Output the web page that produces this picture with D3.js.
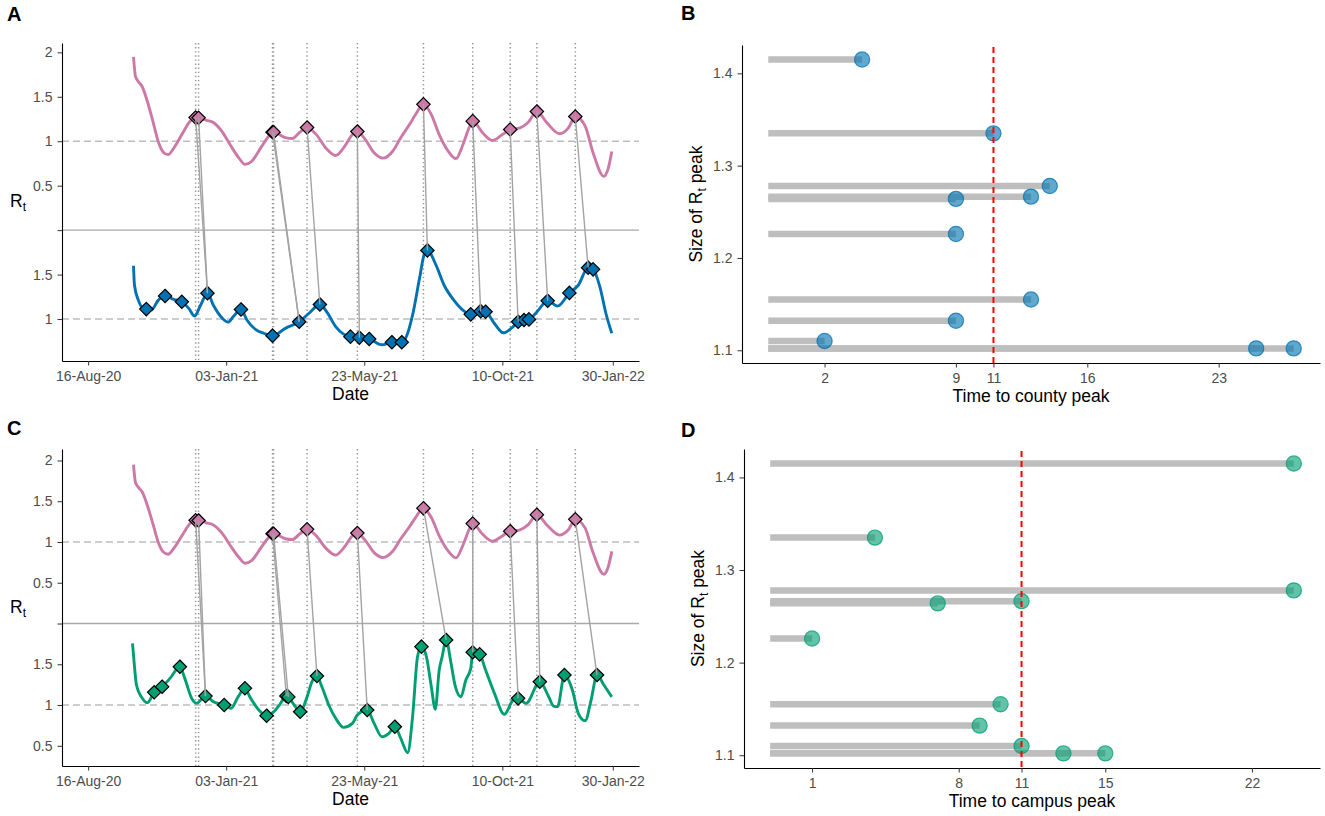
<!DOCTYPE html>
<html><head><meta charset="utf-8">
<script src="https://cdn.jsdelivr.net/npm/d3@7"></script>
<style>
body{margin:0;background:#fff;}
svg text{font-family:"Liberation Sans",Arial,Helvetica,sans-serif;}
</style></head><body>
<svg id="chart" width="1325" height="816"></svg>
<script>
// ---------------- DATA ----------------
// County Rt curve (pink)
const countyCurveDates = ["2020-10-01","2020-10-03","2020-10-06","2020-10-10","2020-10-15","2020-10-21","2020-10-26","2020-10-31","2020-11-05","2020-11-11","2020-11-19","2020-11-27","2020-12-03","2020-12-06","2020-12-14","2020-12-21","2020-12-30","2021-01-07","2021-01-16","2021-01-22","2021-01-29","2021-02-07","2021-02-15","2021-02-19","2021-02-20","2021-03-04","2021-03-11","2021-03-19","2021-03-26","2021-04-04","2021-04-14","2021-04-24","2021-05-02","2021-05-11","2021-05-16","2021-05-24","2021-06-02","2021-06-11","2021-06-21","2021-06-29","2021-07-08","2021-07-14","2021-07-22","2021-07-30","2021-08-07","2021-08-16","2021-08-24","2021-08-31","2021-09-07","2021-09-10","2021-09-20","2021-09-30","2021-10-10","2021-10-18","2021-10-28","2021-11-05","2021-11-14","2021-11-24","2021-12-07","2021-12-16","2021-12-23","2022-01-02","2022-01-10","2022-01-21","2022-01-25","2022-01-29"];
const countyCurveValues = [1.95,1.73,1.67,1.61,1.45,1.21,1.00,0.88,0.85,0.925,1.075,1.22,1.266,1.264,1.235,1.21,1.105,0.96,0.81,0.74,0.775,0.925,1.055,1.102,1.102,1.04,1.03,1.105,1.155,1.08,0.925,0.84,0.925,1.075,1.11,1.02,0.87,0.81,0.89,1.04,1.19,1.30,1.415,1.30,1.075,0.89,0.805,0.96,1.17,1.226,1.095,1.01,1.075,1.132,1.15,1.21,1.335,1.21,1.085,1.15,1.278,1.17,0.87,0.605,0.68,0.885];

// County peaks (pink diamonds) and lags (days) to the matching campus peak
const countyPeakDates = ["2020-12-03","2020-12-06","2021-02-19","2021-02-20","2021-03-26","2021-05-16","2021-07-22","2021-09-10","2021-10-18","2021-11-14","2021-12-23"];
const countyPeakSizes = [1.2664,1.264,1.102,1.102,1.155,1.110,1.415,1.226,1.132,1.335,1.278];
const lagToCountyPeak = [13,9,27,25,13,2,4,9,9,11,14];
const lagToCampusPeak = [11,7,13,15,10,11,24,1,9,4,24];

// Campus Rt curve, panel A (blue)
const campusACurveDates = ["2020-10-01","2020-10-02","2020-10-06","2020-10-09","2020-10-14","2020-10-19","2020-10-26","2020-11-02","2020-11-10","2020-11-19","2020-11-26","2020-12-02","2020-12-08","2020-12-15","2020-12-21","2020-12-30","2021-01-05","2021-01-10","2021-01-18","2021-01-24","2021-02-02","2021-02-10","2021-02-19","2021-03-04","2021-03-18","2021-03-28","2021-04-08","2021-04-15","2021-04-24","2021-05-02","2021-05-09","2021-05-18","2021-05-28","2021-06-10","2021-06-20","2021-06-30","2021-07-04","2021-07-11","2021-07-18","2021-07-23","2021-07-26","2021-08-04","2021-08-12","2021-08-22","2021-08-31","2021-09-08","2021-09-18","2021-09-23","2021-10-02","2021-10-11","2021-10-21","2021-10-26","2021-11-01","2021-11-06","2021-11-14","2021-11-25","2021-12-05","2021-12-17","2021-12-26","2022-01-05","2022-01-10","2022-01-17","2022-01-23","2022-01-29"];
const campusACurveValues = [1.60,1.38,1.21,1.14,1.112,1.10,1.21,1.26,1.225,1.194,1.12,1.035,1.155,1.291,1.155,1.01,0.965,1.025,1.108,0.99,0.88,0.84,0.813,0.895,0.97,1.065,1.164,1.08,0.915,0.83,0.802,0.791,0.776,0.71,0.739,0.739,0.785,1.045,1.455,1.735,1.772,1.60,1.38,1.21,1.10,1.053,1.089,1.082,0.95,0.845,0.915,0.97,0.989,0.996,1.08,1.205,1.145,1.294,1.38,1.578,1.559,1.36,1.065,0.84];
const campusAPeakDates = ["2020-10-14","2020-11-02","2020-11-19","2020-12-15","2021-01-18","2021-02-19","2021-03-18","2021-04-08","2021-05-09","2021-05-18","2021-05-28","2021-06-20","2021-06-30","2021-07-26","2021-09-08","2021-09-18","2021-09-23","2021-10-26","2021-11-01","2021-11-06","2021-11-25","2021-12-17","2022-01-05","2022-01-10"];
const campusAPeakValues = [1.112,1.26,1.194,1.291,1.108,0.813,0.97,1.164,0.802,0.791,0.776,0.739,0.739,1.772,1.053,1.089,1.082,0.97,0.989,0.996,1.205,1.294,1.578,1.559];

// Campus Rt curve, panel C (green)
const campusCCurveDates = ["2020-09-30","2020-10-02","2020-10-04","2020-10-09","2020-10-15","2020-10-22","2020-10-30","2020-11-07","2020-11-17","2020-11-22","2020-11-29","2020-12-04","2020-12-13","2020-12-21","2021-01-01","2021-01-08","2021-01-15","2021-01-22","2021-01-27","2021-02-05","2021-02-13","2021-02-22","2021-02-26","2021-03-05","2021-03-07","2021-03-13","2021-03-19","2021-03-26","2021-03-31","2021-04-05","2021-04-10","2021-04-17","2021-04-24","2021-05-02","2021-05-11","2021-05-16","2021-05-26","2021-06-02","2021-06-10","2021-06-17","2021-06-23","2021-06-29","2021-07-06","2021-07-11","2021-07-16","2021-07-20","2021-07-25","2021-07-30","2021-08-03","2021-08-07","2021-08-10","2021-08-14","2021-08-19","2021-08-23","2021-08-29","2021-09-03","2021-09-08","2021-09-10","2021-09-17","2021-09-23","2021-10-02","2021-10-12","2021-10-21","2021-10-26","2021-11-03","2021-11-17","2021-11-26","2021-12-01","2021-12-05","2021-12-12","2021-12-20","2021-12-26","2022-01-02","2022-01-08","2022-01-14","2022-01-21","2022-01-29"];
const campusCCurveValues = [1.757,1.47,1.245,1.10,1.028,1.156,1.225,1.327,1.47,1.327,1.082,1.021,1.11,1.041,1.0,0.96,1.10,1.205,1.10,0.94,0.869,0.94,1.0,1.11,1.10,1.0,0.918,1.10,1.286,1.356,1.225,1.0,0.837,0.726,0.775,0.877,0.939,0.775,0.611,0.653,0.734,0.591,0.415,0.857,1.593,1.716,1.593,1.225,0.947,1.429,1.593,1.798,1.512,1.245,1.102,1.307,1.45,1.647,1.622,1.429,1.143,0.886,1.061,1.082,1.02,1.286,1.102,0.988,0.98,1.368,1.184,0.898,0.807,1.061,1.368,1.245,1.10];
const campusCPeakDates = ["2020-10-22","2020-10-30","2020-11-17","2020-12-13","2021-01-01","2021-01-22","2021-02-13","2021-03-05","2021-03-07","2021-03-19","2021-04-05","2021-05-26","2021-06-23","2021-07-20","2021-08-14","2021-09-10","2021-09-17","2021-10-26","2021-11-17","2021-12-12","2022-01-14"];
const campusCPeakValues = [1.156,1.225,1.47,1.11,1.0,1.205,0.869,1.11,1.10,0.918,1.356,0.939,0.734,1.716,1.798,1.647,1.622,1.082,1.286,1.368,1.368];

// Axis ticks
const dateTickDates = ["2020-08-16","2021-01-03","2021-05-23","2021-10-10","2022-01-30"];
const dateTickLabels = ["16-Aug-20","03-Jan-21","23-May-21","10-Oct-21","30-Jan-22"];
const rtTicksTop = [0.5,1,1.5,2];
const rtTicksBottomA = [1,1.5];
const rtTicksBottomC = [0.5,1,1.5];
const countyLagTicks = [2,9,11,16,23];
const campusLagTicks = [1,8,11,15,22];
const sizeTicks = [1.1,1.2,1.3,1.4];

// ---------------- DRAWING ----------------
const parse = d3.utcParse("%Y-%m-%d");
const svg = d3.select("#chart");
svg.append("rect").attr("width",1325).attr("height",816).attr("fill","#fff");

const PINK = "#CC79A7", BLUE = "#0072B2", GREEN = "#009E73";
const SHIFT = 2; // county series stacked above campus series
const TICK_TXT = "#4d4d4d";
const TICK_FS = 14, TITLE_FS = 17.5;

function styleAxis(g){
  g.select(".domain").attr("stroke","#000").attr("stroke-width",1.1);
  g.selectAll(".tick line").attr("stroke","#333").attr("stroke-width",1);
  g.selectAll(".tick text").attr("fill",TICK_TXT).attr("font-size",TICK_FS)
    .attr("font-family","'Liberation Sans',Arial,sans-serif");
}

function panelLabel(txt,x,y){
  svg.append("text").attr("x",x).attr("y",y).attr("font-size",20).attr("font-weight","bold").text(txt);
}

function timePanel(cfg){
  const g = svg.append("g");
  const x = d3.scaleUtc()
    .domain([new Date(Date.UTC(2020,6,20,12)), new Date(Date.UTC(2022,1,25,14))])
    .range([cfg.left,cfg.right]);
  const y = d3.scaleLinear().domain(cfg.yDomain).range([cfg.bottom,cfg.top]);

  // vertical dotted lines at county peaks
  g.selectAll("line.vl").data(countyPeakDates).join("line")
    .attr("x1",d=>x(parse(d))).attr("x2",d=>x(parse(d)))
    .attr("y1",cfg.top).attr("y2",cfg.bottom)
    .attr("stroke","#9a9a9a").attr("stroke-width",1.5).attr("stroke-dasharray","1.4,2.7");
  // reference lines
  [1, 1+SHIFT].forEach(v=>{
    g.append("line").attr("x1",cfg.left).attr("x2",cfg.right).attr("y1",y(v)).attr("y2",y(v))
      .attr("stroke","#bdbdbd").attr("stroke-width",1.5).attr("stroke-dasharray","7,4");
  });
  g.append("line").attr("x1",cfg.left).attr("x2",cfg.right).attr("y1",y(SHIFT)).attr("y2",y(SHIFT))
    .attr("stroke","#a8a8a8").attr("stroke-width",1.4);

  const line = d3.line().curve(d3.curveMonotoneX).x(d=>x(d[0])).y(d=>y(d[1]));
  const county = countyCurveDates.map((d,i)=>[parse(d), countyCurveValues[i]+SHIFT]);
  const campus = cfg.curveDates.map((d,i)=>[parse(d), cfg.curveValues[i]]);
  g.append("path").attr("d",line(county)).attr("fill","none").attr("stroke",PINK).attr("stroke-width",2.9);
  g.append("path").attr("d",line(campus)).attr("fill","none").attr("stroke",cfg.color).attr("stroke-width",2.9);

  const diamond = r => `M0,${-r}L${r},0L0,${r}L${-r},0Z`;
  g.selectAll("path.cp").data(countyPeakDates).join("path")
    .attr("d",diamond(6.7)).attr("transform",(d,i)=>`translate(${x(parse(d))},${y(countyPeakSizes[i]+SHIFT)})`)
    .attr("fill",PINK).attr("stroke","#000").attr("stroke-width",1.2);
  g.selectAll("path.mp").data(cfg.peakDates).join("path")
    .attr("d",diamond(6.7)).attr("transform",(d,i)=>`translate(${x(parse(d))},${y(cfg.peakValues[i])})`)
    .attr("fill",cfg.color).attr("stroke","#000").attr("stroke-width",1.2);

  // connectors county peak -> campus peak (nearest campus peak to peak date + lag)
  const peaks = cfg.peakDates.map((d,i)=>({t:parse(d), v:cfg.peakValues[i]}));
  countyPeakDates.forEach((d,i)=>{
    const t0 = parse(d);
    const target = d3.utcDay.offset(t0, cfg.lags[i]);
    const best = d3.least(peaks, p=>Math.abs(p.t - target));
    g.append("line").attr("x1",x(t0)).attr("y1",y(countyPeakSizes[i]+SHIFT))
      .attr("x2",x(best.t)).attr("y2",y(best.v))
      .attr("stroke","#a3a3a3").attr("stroke-width",1.4);
  });

  // axes
  const yTicks = cfg.bottomTicks.concat([SHIFT], rtTicksTop.map(v=>v+SHIFT));
  const ya = g.append("g").attr("transform",`translate(${cfg.left},0)`)
    .call(d3.axisLeft(y).tickValues(yTicks).tickSize(4.5).tickPadding(5).tickSizeOuter(0)
      .tickFormat(v=> v===SHIFT ? "" : (v>SHIFT ? String(+(v-SHIFT).toFixed(2)) : String(v))));
  styleAxis(ya);
  const xa = g.append("g").attr("transform",`translate(0,${cfg.bottom})`)
    .call(d3.axisBottom(x).tickValues(dateTickDates.map(parse)).tickSize(4.5).tickPadding(6).tickSizeOuter(0)
      .tickFormat((d,i)=>dateTickLabels[i]));
  styleAxis(xa);
  g.append("text").attr("x",(cfg.left+cfg.right)/2).attr("y",cfg.bottom+39).attr("text-anchor","middle")
    .attr("font-size",TITLE_FS).text("Date");
  const rt = g.append("text").attr("x",10).attr("y",(cfg.top+cfg.bottom)/2+5).attr("font-size",TITLE_FS);
  rt.append("tspan").text("R");
  rt.append("tspan").attr("font-size",12).attr("dy",4).text("t");
}

function lollipopPanel(cfg){
  const g = svg.append("g");
  const x = d3.scaleLinear().domain(cfg.xDomain).range([cfg.left,cfg.right]);
  const y = d3.scaleLinear().domain([1.0862,1.4307]).range([cfg.bottom,cfg.top]);
  g.selectAll("line.seg").data(countyPeakSizes).join("line")
    .attr("x1",x(-1)).attr("x2",(d,i)=>x(cfg.lags[i]))
    .attr("y1",d=>y(d)).attr("y2",d=>y(d))
    .attr("stroke","#bebebe").attr("stroke-width",6.5);
  g.selectAll("circle").data(countyPeakSizes).join("circle")
    .attr("cx",(d,i)=>x(cfg.lags[i])).attr("cy",d=>y(d)).attr("r",7.6)
    .attr("fill",cfg.color).attr("fill-opacity",0.62)
    .attr("stroke",cfg.color).attr("stroke-opacity",0.75).attr("stroke-width",1.2);
  g.append("line").attr("x1",x(11)).attr("x2",x(11)).attr("y1",cfg.top+2).attr("y2",cfg.bottom)
    .attr("stroke","#ff0000").attr("stroke-width",2).attr("stroke-dasharray","6,4");
  const ya = g.append("g").attr("transform",`translate(${cfg.left},0)`)
    .call(d3.axisLeft(y).tickValues(sizeTicks).tickSize(4.5).tickPadding(5).tickSizeOuter(0).tickFormat(d3.format(".1f")));
  styleAxis(ya);
  const xa = g.append("g").attr("transform",`translate(0,${cfg.bottom})`)
    .call(d3.axisBottom(x).tickValues(cfg.xTicks).tickSize(4.5).tickPadding(6).tickSizeOuter(0).tickFormat(d3.format("d")));
  styleAxis(xa);
  g.append("text").attr("x",(cfg.left+cfg.right)/2).attr("y",cfg.bottom+39).attr("text-anchor","middle")
    .attr("font-size",TITLE_FS).text(cfg.xTitle);
  const t = g.append("text").attr("transform",`translate(${cfg.left-40},${(cfg.top+cfg.bottom)/2}) rotate(-90)`)
    .attr("text-anchor","middle").attr("font-size",TITLE_FS);
  t.append("tspan").text("Size of R");
  t.append("tspan").attr("font-size",12).attr("dy",4).text("t");
  t.append("tspan").attr("dy",-4).text(" peak");
}

timePanel({left:62,right:639,top:43,bottom:361,yDomain:[0.528,4.105],
  curveDates:campusACurveDates,curveValues:campusACurveValues,
  peakDates:campusAPeakDates,peakValues:campusAPeakValues,color:BLUE,
  bottomTicks:rtTicksBottomA,lags:lagToCountyPeak});
timePanel({left:62,right:639,top:449,bottom:766,yDomain:[0.252,4.141],
  curveDates:campusCCurveDates,curveValues:campusCCurveValues,
  peakDates:campusCPeakDates,peakValues:campusCPeakValues,color:GREEN,
  bottomTicks:rtTicksBottomC,lags:lagToCampusPeak});
lollipopPanel({left:742,right:1320,top:45,bottom:363,xDomain:[-2.4,28.4],
  xTicks:countyLagTicks,lags:lagToCountyPeak,color:BLUE,xTitle:"Time to county peak"});
lollipopPanel({left:744,right:1320,top:449,bottom:768,xDomain:[-2.25,25.25],
  xTicks:campusLagTicks,lags:lagToCampusPeak,color:GREEN,xTitle:"Time to campus peak"});

panelLabel("A",7,21);
panelLabel("B",681,20);
panelLabel("C",7,435);
panelLabel("D",681,437);
</script>
</body></html>
